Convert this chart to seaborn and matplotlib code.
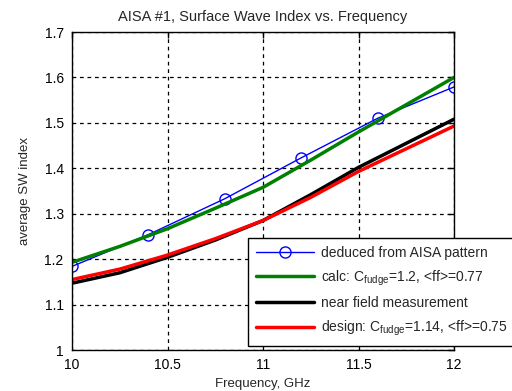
import matplotlib
matplotlib.use("Agg")
import matplotlib.pyplot as plt
import seaborn as sns
import pandas as pd

# ---- data ----
freq_blue = [10.0, 10.4, 10.8, 11.2, 11.6, 12.0]
sw_blue = [1.184, 1.254, 1.333, 1.423, 1.510, 1.579]

freq_lines = [10.0, 10.25, 10.5, 10.75, 11.0, 11.25, 11.5, 11.75, 12.0]
sw_green = [1.193, 1.228, 1.267, 1.312, 1.358, 1.418, 1.480, 1.540, 1.600]
sw_black = [1.147, 1.170, 1.204, 1.242, 1.285, 1.342, 1.402, 1.455, 1.508]
sw_red = [1.155, 1.178, 1.209, 1.245, 1.285, 1.336, 1.393, 1.443, 1.493]

labels = [
    "deduced from AISA pattern",
    r"calc: C$_{\mathregular{fudge}}$=1.2, <ff>=0.77",
    "near field measurement",
    r"design: C$_{\mathregular{fudge}}$=1.14, <ff>=0.75",
]
xticks = [10, 10.5, 11, 11.5, 12]
xticklabels = ["10", "10.5", "11", "11.5", "12"]
yticks = [1.0, 1.1, 1.2, 1.3, 1.4, 1.5, 1.6, 1.7]
yticklabels = ["1", "1.1", "1.2", "1.3", "1.4", "1.5", "1.6", "1.7"]

sns.set_style("white")
plt.rcParams["font.family"] = ["Liberation Sans", "DejaVu Sans"]
plt.rcParams["mathtext.fontset"] = "custom"
plt.rcParams["mathtext.rm"] = "Liberation Sans"

fig = plt.figure(figsize=(5.12, 3.91), dpi=100)
ax = fig.add_axes([72 / 512, 1 - 350 / 391, (454 - 72) / 512, (350 - 32) / 391])

df_b = pd.DataFrame({"f": freq_blue, "v": sw_blue})
df_l = pd.DataFrame({"f": freq_lines, "g": sw_green, "k": sw_black, "r": sw_red})

sns.lineplot(data=df_b, x="f", y="v", ax=ax, color="#0000ff", lw=1.0,
             marker="o", markersize=8, markerfacecolor="none",
             markeredgecolor="#0000ff", markeredgewidth=1.0, label=labels[0])
sns.lineplot(data=df_l, x="f", y="g", ax=ax, color="#008000", lw=2.5, label=labels[1])
sns.lineplot(data=df_l, x="f", y="k", ax=ax, color="black", lw=2.5, label=labels[2])
sns.lineplot(data=df_l, x="f", y="r", ax=ax, color="#ff0000", lw=2.5, label=labels[3])

ax.set_xlim(10, 12)
ax.set_ylim(1.0, 1.7)
ax.set_xticks(xticks)
ax.set_xticklabels(xticklabels)
ax.set_yticks(yticks)
ax.set_yticklabels(yticklabels)
ax.tick_params(direction="in", top=True, right=True, length=4, width=1,
               labelsize=10, colors="black", pad=6)
ax.grid(True, color="black", linestyle=(0, (3, 3)), linewidth=0.9)
for s in ax.spines.values():
    s.set_color("black")
    s.set_linewidth(1.0)

ax.set_title("AISA #1, Surface Wave Index vs. Frequency", fontsize=10.5, pad=8)
ax.set_xlabel("Frequency, GHz", fontsize=9.5, labelpad=4)
ax.set_ylabel("average SW index", fontsize=9.5, labelpad=10)

leg = ax.legend(loc="upper left", bbox_to_anchor=((248 - 72) / 382, (350 - 238) / 318),
                fontsize=10, frameon=True, fancybox=False, framealpha=1,
                edgecolor="black", handlelength=4.2, borderpad=0.55,
                labelspacing=0.62, handletextpad=0.5, borderaxespad=0)
leg.get_frame().set_linewidth(1.0)

fig.savefig("out.png", dpi=100)
